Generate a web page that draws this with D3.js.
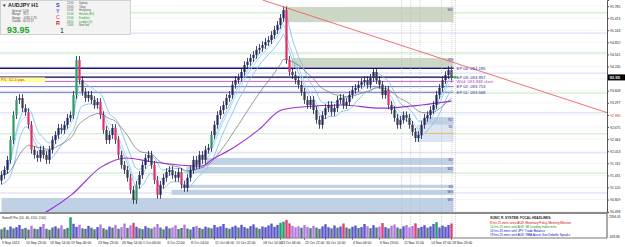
<!DOCTYPE html>
<html lang="en">
<head>
<meta charset="UTF-8">
<title>AUDJPY H1</title>
<script src="https://cdn.jsdelivr.net/npm/d3@7"></script>
<style>
	body { margin: 0; background: #fff; }
	svg { display: block; font-family: "Liberation Sans", Arial, sans-serif; }
</style>
</head>
<body>
<script>
	var w = 625, h = 247;
	var axisX = 607, mainBot = 212, indTop = 214, indBot = 238;

	// H1 closes (one per ~3 hours)
	var firstOpen = 91.30;
	var closes = [91.44,91.57,91.83,92.34,92.98,93.37,93.42,93.16,93.06,92.73,
		92.09,91.96,91.88,92.09,91.96,91.83,92.09,92.34,92.47,92.65,
		92.60,92.73,92.91,92.98,93.50,94.40,93.88,93.58,93.42,93.50,
		93.37,93.24,93.32,92.98,92.60,92.34,92.47,92.65,92.34,91.96,
		91.70,91.57,91.37,91.06,90.80,91.19,91.44,91.70,91.88,91.96,
		91.70,91.31,90.93,91.19,91.37,91.52,91.57,91.44,91.37,91.52,
		91.19,91.11,91.37,91.57,91.83,91.70,91.96,91.83,92.09,92.14,
		92.47,92.73,92.98,93.11,93.24,93.42,93.50,93.76,93.88,93.94,
		94.09,94.27,94.35,94.45,94.53,94.66,94.71,94.78,94.86,94.91,
		95.04,95.17,95.30,95.48,95.68,94.40,94.09,94.01,93.88,93.76,
		93.58,93.37,93.24,93.37,93.11,92.86,92.73,92.98,93.16,93.24,
		93.06,93.16,93.37,93.42,93.24,93.32,93.50,93.63,93.68,93.76,
		93.83,93.88,93.76,93.94,94.09,93.88,93.76,93.50,93.63,93.24,
		93.11,92.91,92.73,92.86,92.98,92.91,92.73,92.55,92.39,92.47,
		92.73,92.91,92.98,93.11,93.24,93.50,93.68,93.88,94.01,94.14,93.95];

	var vols = [620,880,540,1020,760,930,1240,680,820,590,1130,720,640,980,1380,700,560,890,1050,760,
		1190,640,830,2360,1420,980,1280,760,690,1110,850,620,940,1320,770,580,1010,860,1240,700,
		930,1450,820,1180,1560,990,760,640,1070,830,720,960,1380,880,620,1040,760,900,1190,680,
		810,1300,740,590,950,1120,830,680,1010,870,760,1240,920,1060,1390,820,710,980,1150,880,
		1270,940,760,1080,1330,870,690,1020,920,1180,1440,980,1250,1560,1720,1980,1480,1120,900,1060,
		840,1230,960,780,1110,870,690,1040,1350,920,760,1180,850,1030,1460,880,720,990,1160,810,
		940,1380,1060,790,1210,880,1010,1520,930,760,1140,1320,880,700,1060,1240,910,1100,1480,820,
		970,1210,860,1040,1380,1650,900,1160,980,1240,1460];

	var purpleIdx = [13, 16, 23.3, 33.3, 41.7, 50, 59, 66.7, 70, 77.7, 85.7, 93.3, 100, 113.3, 126.7, 140, 150];
	var purplePx = [90.41, 90.54, 90.93, 91.65, 91.88, 91.78, 91.70, 91.67, 91.83, 92.16, 92.60, 93.11, 93.19, 93.24, 93.16, 93.24, 93.34];

	var priceTicks = [95.785,95.474,95.163,94.852,94.541,94.230,93.919,93.608,93.297,92.986,
		92.675,92.364,92.053,91.742,91.431,91.120,90.809,90.498];
	var greenLevels = [95.61, 94.58, 93.55, 92.50, 91.49];
	var lavLevels = [95.09, 94.06, 93.04, 92.01, 90.98];

	var timeIdx = [0,8,16,23,32,40,47,55,63,71,78,87,93,101,108,117,126,134,143,150];
	var timeLabels = ["9 Sep 2013","10 Sep 23:00","16 Sep 14:00","19 Sep 06:00","23 Sep 23:00",
		"26 Sep 14:00","1 Oct 06:00","3 Oct 22:00","8 Oct 14:00","11 Oct 06:00","15 Oct 22:00",
		"18 Oct 14:00","23 Oct 06:00","25 Oct 22:00","30 Oct 14:00","4 Nov 06:00","6 Nov 23:00",
		"11 Nov 15:00","14 Nov 07:00","18 Nov 23:00"];
	var eventIdx = [133.4, 136.4, 139.5, 146.7, 150.1, 151.3];

	// supply / demand zones
	var zoneFrom = [94.3, 96.7, 141, 138.3, 68.3, 61.7, 60, 56.7, 0];
	var zoneTop = [95.76, 94.45, 92.93, 92.73, 91.88, 91.65, 91.19, 91.06, 90.85];
	var zoneBot = [95.37, 94.22, 92.73, 92.29, 91.70, 91.49, 91.11, 90.93, 90.49];
	var zoneKind = ["s", "s", "d", "l", "d", "d", "d", "d", "d"];
	var zoneNames = ["W4", "R3", "R2", "S1", "S2", "W2", "S3", "W3", "W3"];
	var zoneEnd = 150.7;

	var epNames = ["EP 04: 094.185", "EP 03: 093.957", "W04: 093.848   short", "EP 02: 093.713", "EP 01: 093.568"];
	var epPrices = [94.185, 93.957, 93.848, 93.713, 93.568];
	var epColors = ["#14147a", "#000050", "#c050c0", "#6a5acd", "#6a5acd"];

	var trendIdx = [87, 202], trendPx = [95.94, 93.04];
	var bid = 93.95;

	var cities = ["Sydney","Tokyo","Hongkong","Helsinki (EU)","Frankfurt","London (O)","NewYork"];
	var cityTimes = ["22:00","23:00","01:00","07:00","07:00","08:00","13:00"];
	var infoKeys = ["Spread","Range","Swaps","Candle"];
	var infoVals = ["5.00","78.5","-4.80/-2.70","00:51:57"];
	var headlines = ["8 hrs 25 mins since AUD: Monetary Policy Meeting Minutes",
		"14 hrs 25 mins until AUD: MI Leading Index m/m",
		"14 hrs 45 mins until JPY: Trade Balance",
		"19 hrs 25 mins until AUD: RBA Assist Gov Debelle Speaks"];
	var headColors = ["#e00000", "#119911", "#1010c0", "#1010c0"];

	var x = d3.scaleLinear().domain([0, 150]).range([1.5, 451.5]);
	var y = d3.scaleLinear().domain([90.49, 95.94]).range([mainBot, 0]);
	var yi = d3.scaleLinear().domain([-633.86, 2394.05]).range([indBot, indTop + 3]);

	var svg = d3.select("body").append("svg").attr("width", w).attr("height", h);
	svg.append("defs").append("clipPath").attr("id", "mc")
		.append("rect").attr("x", 0).attr("y", 0).attr("width", axisX).attr("height", mainBot);
	var g = svg.append("g").attr("clip-path", "url(#mc)");

	// level lines
	priceTicks.forEach(function(p){
		g.append("line").attr("x1", 0).attr("x2", axisX).attr("y1", y(p)).attr("y2", y(p))
			.attr("stroke", "#ececec").attr("stroke-width", 0.6);
	});
	greenLevels.forEach(function(p){
		g.append("line").attr("x1", 0).attr("x2", axisX).attr("y1", y(p)).attr("y2", y(p))
			.attr("stroke", "#b9e8b9").attr("stroke-width", 0.9);
	});
	lavLevels.forEach(function(p){
		g.append("line").attr("x1", 0).attr("x2", axisX).attr("y1", y(p)).attr("y2", y(p))
			.attr("stroke", "#d4d4f2").attr("stroke-width", 0.9);
	});

	// zones
	var zoneFill = { s: "#c7d4bf", d: "#b9cbe2", l: "#d7e3f1" };
	zoneFrom.forEach(function(f, i){
		g.append("rect").attr("x", x(f)).attr("y", y(zoneTop[i]))
			.attr("width", x(zoneEnd) - x(f)).attr("height", y(zoneBot[i]) - y(zoneTop[i]))
			.attr("fill", zoneFill[zoneKind[i]]).attr("opacity", 0.9);
		g.append("text").attr("x", x(zoneEnd) - 1).attr("y", y(zoneTop[i]) + 3.5)
			.attr("text-anchor", "end").attr("font-size", 3.4).attr("fill", "#3030a0").text(zoneNames[i]);
	});
	g.append("line").attr("x1", x(141)).attr("x2", x(zoneEnd)).attr("y1", y(92.51)).attr("y2", y(92.51))
		.attr("stroke", "#f0b040").attr("stroke-width", 0.8);

	// event lines
	eventIdx.forEach(function(e){
		svg.append("line").attr("x1", x(e)).attr("x2", x(e)).attr("y1", 0).attr("y2", indBot)
			.attr("stroke", "#b4b4b4").attr("stroke-width", 0.6).attr("stroke-dasharray", "1,1");
	});

	// entry lines
	epPrices.forEach(function(p, i){
		g.append("line").attr("x1", 0).attr("x2", x(zoneEnd)).attr("y1", y(p)).attr("y2", y(p))
			.attr("stroke", epColors[i]).attr("stroke-width", i < 2 ? 1.3 : 0.9);
		svg.append("text").attr("x", x(zoneEnd) + 3).attr("y", y(p) + 1.5)
			.attr("font-size", 4.2).attr("fill", i == 2 ? "#b040b0" : "#2a2a9a").text(epNames[i]);
	});
	svg.append("circle").attr("cx", x(zoneEnd) + 1.6).attr("cy", y(epPrices[1]))
		.attr("r", 1.4).attr("fill", "#22cc22");

	// candles
	var opens = closes.map(function(c, i){ return i ? closes[i - 1] : firstOpen; });
	var wick = 0.1;
	var highs = closes.map(function(c, i){ return Math.max(c, opens[i]) + wick; });
	var lows = closes.map(function(c, i){ return Math.min(c, opens[i]) - wick; });

	function ema(arr, n){
		var k = 2 / (n + 1), e = arr[0];
		return arr.map(function(v, i){ e = i ? v * k + e * (1 - k) : v; return e; });
	}
	var line = d3.line().x(function(d, i){ return x(i); }).y(function(d){ return y(d); }).curve(d3.curveMonotoneX);

	[ema(highs, 6), ema(lows, 6), ema(closes, 6)].forEach(function(s, k){
		g.append("path").attr("d", line(s)).attr("fill", "none")
			.attr("stroke", k == 2 ? "#9fd3f5" : "#7cc3f2").attr("stroke-width", 0.9);
	});
	g.append("path").attr("d", line(ema(closes, 22))).attr("fill", "none")
		.attr("stroke", "#6e6e6e").attr("stroke-width", 0.7);

	var purpleLine = d3.line().x(function(d, i){ return x(purpleIdx[i]); }).y(function(d){ return y(d); })
		.curve(d3.curveMonotoneX);
	g.append("path").attr("d", purpleLine(purplePx)).attr("fill", "none")
		.attr("stroke", "#9a2fd0").attr("stroke-width", 1.1);

	closes.forEach(function(c, i){
		var o = opens[i], up = c >= o, big = Math.abs(c - o) > 0.3;
		g.append("line").attr("x1", x(i)).attr("x2", x(i)).attr("y1", y(highs[i])).attr("y2", y(lows[i]))
			.attr("stroke", "#1c1c48").attr("stroke-width", 0.8);
		g.append("rect").attr("x", x(i) - 1.1).attr("width", 2.2)
			.attr("y", y(Math.max(o, c))).attr("height", Math.max(0.8, Math.abs(y(o) - y(c))))
			.attr("fill", big ? (up ? "#2e9a64" : "#e0306a") : (up ? "#262660" : "#3a3a4a"));
	});

	// trend line
	g.append("line").attr("x1", x(trendIdx[0])).attr("y1", y(trendPx[0]))
		.attr("x2", x(trendIdx[1])).attr("y2", y(trendPx[1]))
		.attr("stroke", "#f06060").attr("stroke-width", 0.9);

	// P/L label
	svg.append("rect").attr("x", 0).attr("y", y(epPrices[2]) - 4).attr("width", 45).attr("height", 5)
		.attr("fill", "#ffff99");
	svg.append("text").attr("x", 1).attr("y", y(epPrices[2])).attr("font-size", 3.9)
		.attr("fill", "#e03020").text("P/L: 62.4 pips");

	// price axis
	var yAxis = d3.axisRight(y).tickValues(priceTicks).tickSize(2).tickFormat(d3.format(".3f"));
	var ax = svg.append("g").attr("transform", "translate(" + axisX + ",0)").call(yAxis);
	ax.select(".domain").attr("stroke", "#555");
	ax.selectAll("line").attr("stroke", "#555");
	ax.selectAll("text").attr("font-size", 3.4).attr("x", 3)
		.attr("fill", function(d){ return Math.abs(y(d) - y(trendPx[1])) < 3 ? "#e03030" : "#222"; });
	ax.selectAll(".tick").filter(function(d){ return Math.abs(y(d) - y(bid)) < 4; }).remove();
	svg.append("line").attr("x1", axisX).attr("x2", axisX).attr("y1", mainBot).attr("y2", indBot)
		.attr("stroke", "#555");
	svg.append("rect").attr("x", axisX + 1).attr("y", y(bid) - 3).attr("width", 17).attr("height", 6)
		.attr("fill", "#000");
	svg.append("text").attr("x", axisX + 2.5).attr("y", y(bid) + 1.6).attr("font-size", 4.2)
		.attr("font-weight", "bold").attr("fill", "#fff").text(bid.toFixed(2));

	// panel separators
	svg.append("line").attr("x1", 0).attr("x2", axisX).attr("y1", mainBot + 1).attr("y2", mainBot + 1)
		.attr("stroke", "#8a8a8a").attr("stroke-width", 2);
	svg.append("line").attr("x1", 0).attr("x2", axisX).attr("y1", indBot).attr("y2", indBot)
		.attr("stroke", "#555").attr("stroke-width", 0.8);

	// SonicR Pro histogram
	vols.forEach(function(v, i){
		var c = closes[Math.min(i, closes.length - 1)], o = opens[Math.min(i, closes.length - 1)];
		var col = v < 900 ? "#56767c" : (c >= o ? (v > 1450 ? "#1f9d6a" : "#5a55c8") : (v > 1450 ? "#e0407a" : "#b07ad8"));
		svg.append("rect").attr("x", x(i) - 1.2).attr("width", 2.4)
			.attr("y", yi(v)).attr("height", indBot - yi(v)).attr("fill", col);
	});
	svg.append("text").attr("x", 2).attr("y", indTop + 4.5).attr("font-size", 3.2).attr("fill", "#222")
		.text("SonicR Pro  (14, 40, 4.50, 2.00)");
	svg.append("text").attr("x", axisX + 2).attr("y", indTop + 4).attr("font-size", 3.2).attr("fill", "#222").text("2394.05");
	svg.append("text").attr("x", axisX + 2).attr("y", indBot).attr("font-size", 3.2).attr("fill", "#222").text("-633.86");

	svg.append("text").attr("x", 490).attr("y", 219).attr("font-size", 3.2).attr("font-weight", "bold")
		.attr("fill", "#222").text("SONIC R. SYSTEM: FOCAL HEADLINES:");
	headlines.forEach(function(t, i){
		svg.append("text").attr("x", 490).attr("y", 223.5 + i * 4).attr("font-size", 3.1)
			.attr("fill", headColors[i]).text(t);
	});

	// time axis
	timeIdx.forEach(function(t, i){
		svg.append("line").attr("x1", x(t)).attr("x2", x(t)).attr("y1", indBot).attr("y2", indBot + 2)
			.attr("stroke", "#444").attr("stroke-width", 0.6);
		svg.append("text").attr("x", x(t) + 0.5).attr("y", 243.5).attr("font-size", 3.4)
			.attr("fill", "#222").text(timeLabels[i]);
	});

	// info panel
	svg.append("rect").attr("x", 0.5).attr("y", 0.5).attr("width", 130).attr("height", 34)
		.attr("fill", "#f3f3f3").attr("stroke", "#c8c8c8").attr("stroke-width", 0.8);
	svg.append("text").attr("x", 2).attr("y", 7).attr("font-size", 4.5).attr("fill", "#222").text("\u25BC");
	svg.append("text").attr("x", 8).attr("y", 7).attr("font-size", 5.4).attr("font-weight", "bold")
		.attr("fill", "#222").text("AUDJPY  H1");
	infoKeys.forEach(function(k, i){
		svg.append("text").attr("x", 12).attr("y", 11.5 + i * 3.6).attr("font-size", 2.8).attr("fill", "#444").text(k);
		svg.append("text").attr("x", 23).attr("y", 11.5 + i * 3.6).attr("font-size", 2.8).attr("fill", "#444").text(infoVals[i]);
	});
	svg.append("text").attr("x", 7).attr("y", 33).attr("font-size", 9).attr("font-weight", "bold")
		.attr("fill", "#22a522").text("93.95");
	svg.append("text").attr("x", 60).attr("y", 33).attr("font-size", 7).attr("fill", "#222").text("1");
	["S", "Y", "C", "R"].forEach(function(s, i){
		svg.append("text").attr("x", 56).attr("y", 7 + i * 6).attr("font-size", 5.4).attr("font-weight", "bold")
			.attr("fill", ["#3030d0", "#8060c0", "#e070a0", "#e02020"][i]).text(s);
	});
	cities.forEach(function(c, i){
		var col = i >= 3 && i <= 5 ? "#119911" : "#555";
		svg.append("text").attr("x", 67).attr("y", 4 + i * 3.7).attr("font-size", 2.6).attr("fill", col).text(cityTimes[i]);
		svg.append("text").attr("x", 79).attr("y", 4 + i * 3.7).attr("font-size", 2.6).attr("fill", col).text(c);
	});
</script>
</body>
</html>
